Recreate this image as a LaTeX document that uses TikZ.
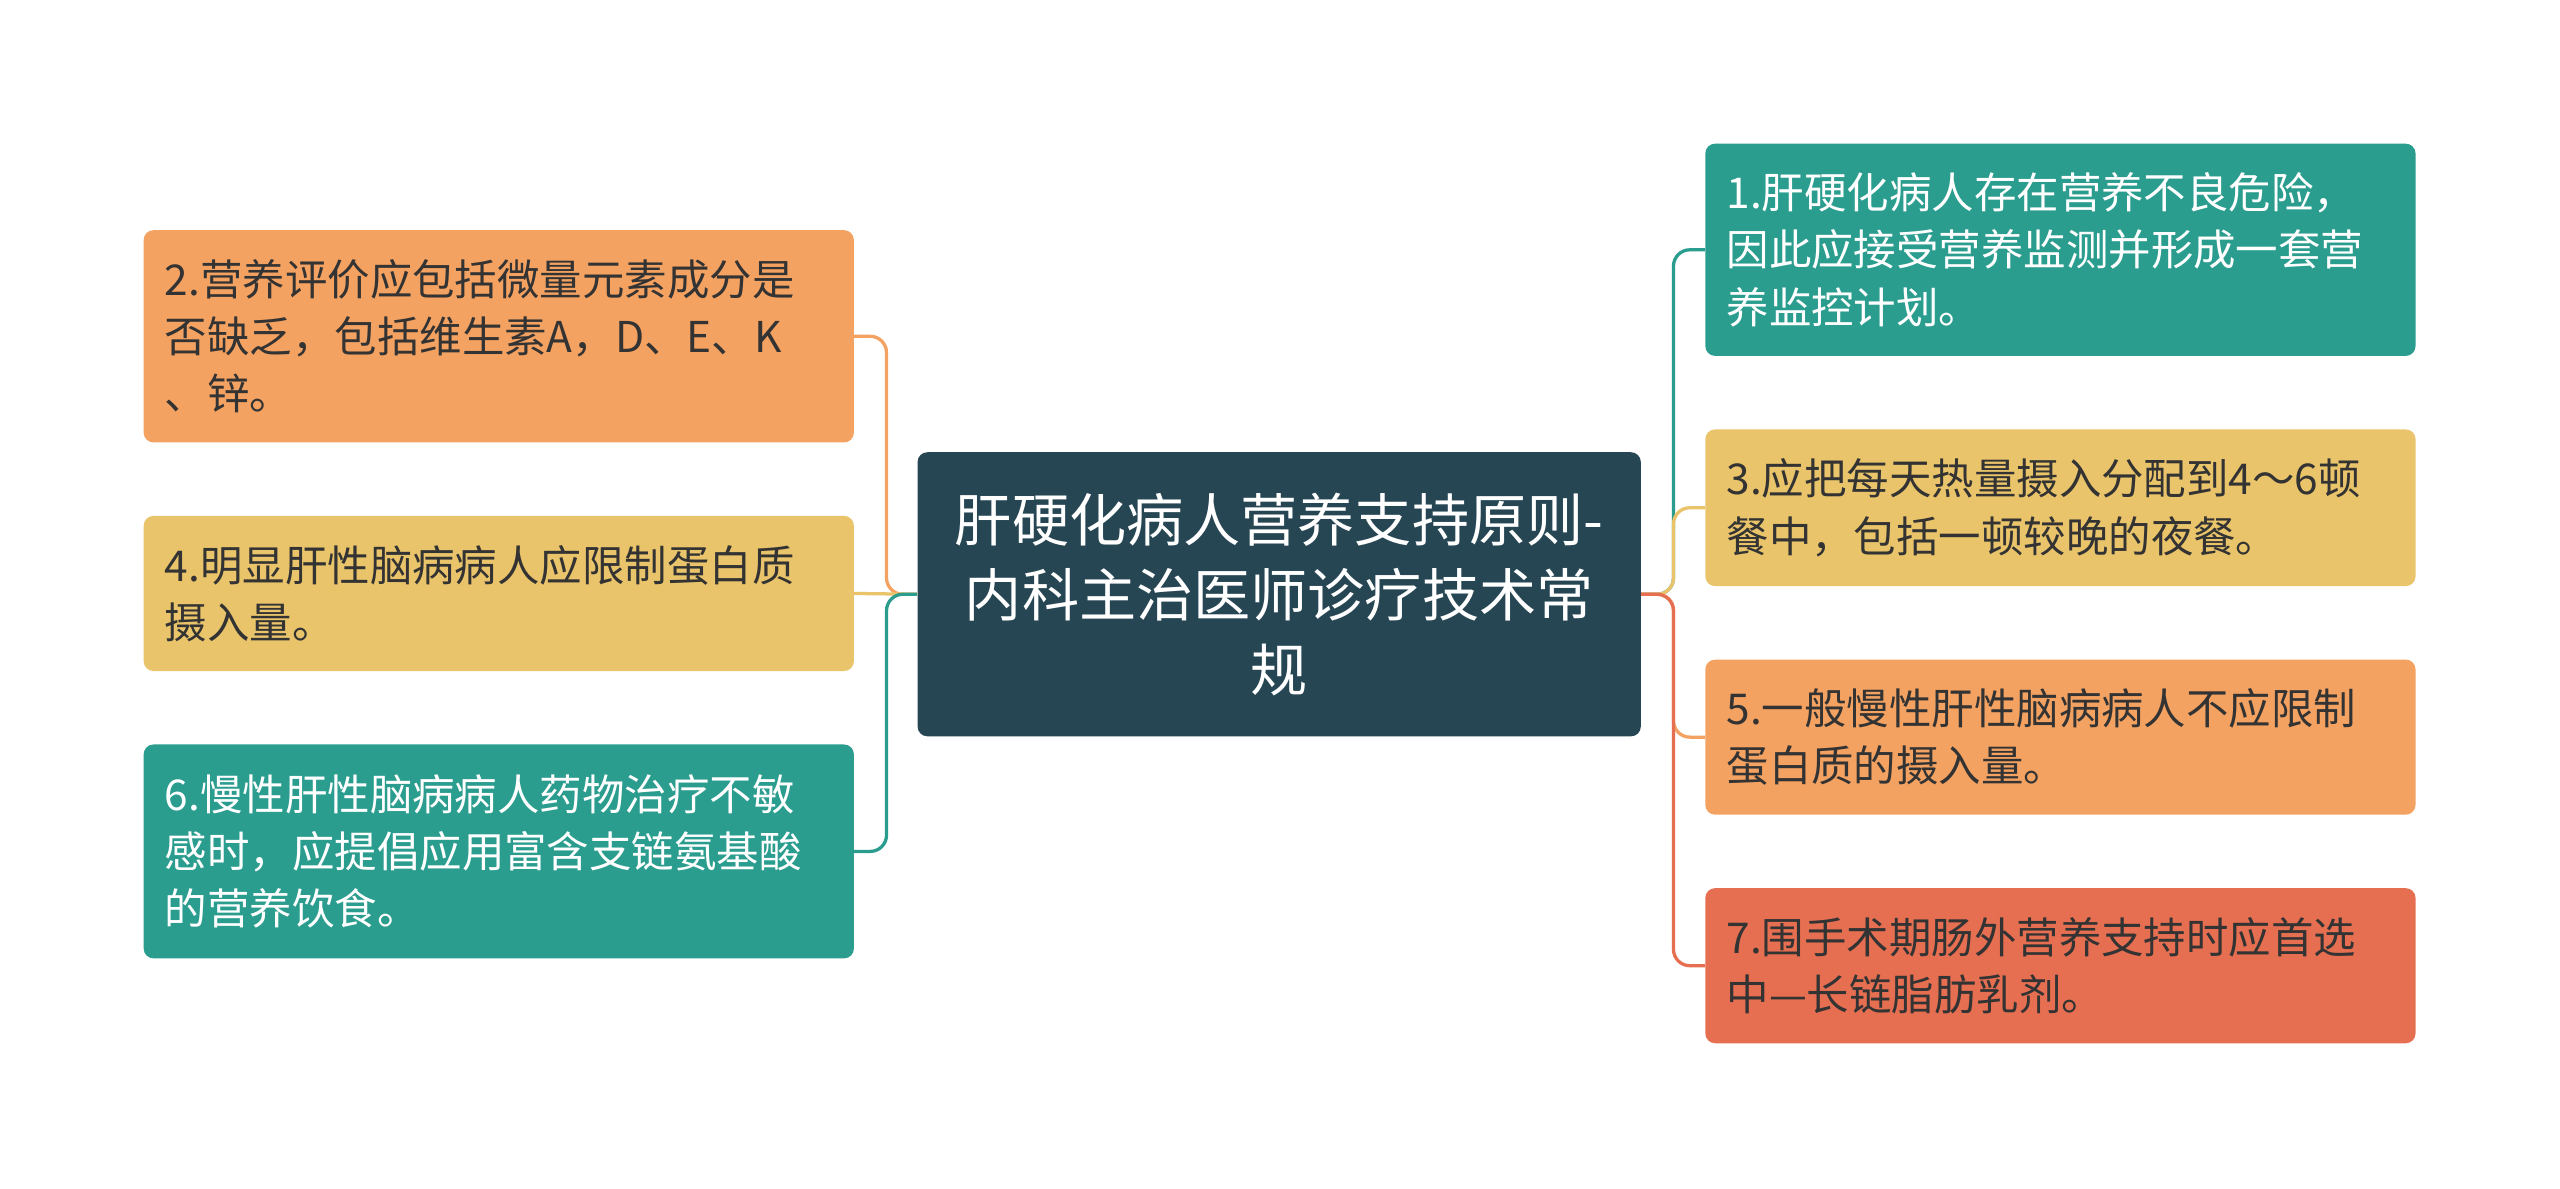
\documentclass[tikz,border=0pt]{standalone}
\usepackage{fontspec}
\newfontfamily\cjk{Noto Sans CJK SC}
\definecolor{cdark}{HTML}{264653}
\definecolor{cteal}{HTML}{2A9D8F}
\definecolor{cyel}{HTML}{E9C46A}
\definecolor{corg}{HTML}{F4A261}
\definecolor{cred}{HTML}{E76F51}
\definecolor{ctxt}{HTML}{333333}
\tikzset{
 leaf/.style={rounded corners=6pt,minimum width=435pt,text width=409pt,align=left,inner sep=0pt,font=\cjk\fontsize{26}{35}\selectfont,text=ctxt},
 conn/.style={line width=2pt,rounded corners=10pt}
}
\begin{document}
\begin{tikzpicture}[x=1pt,y=1pt]
\useasboundingbox[fill=white] (0,0) rectangle (1568,728);
\node[rounded corners=6pt,fill=cdark,minimum width=443pt,minimum height=174pt,text width=420pt,align=center,inner sep=0pt,text=white,font=\cjk\fontsize{35}{46}\selectfont] (c) at (783.5,364) {肝硬化病人营养支持原则-\\内科主治医师诊疗技术常\\规};
\node[leaf,fill=corg,minimum height=130pt] (n2) at (305.5,522) {2.营养评价应包括微量元素成分是\\否缺乏，包括维生素A，D、E、K\\、锌。};
\node[leaf,fill=cyel,minimum height=95pt] (n4) at (305.5,364.5) {4.明显肝性脑病病人应限制蛋白质\\摄入量。};
\node[leaf,fill=cteal,minimum height=131pt,text=white] (n6) at (305.5,206.5) {6.慢性肝性脑病病人药物治疗不敏\\感时，应提倡应用富含支链氨基酸\\的营养饮食。};
\node[leaf,fill=cteal,minimum height=130pt,text=white] (n1) at (1262,575) {1.肝硬化病人存在营养不良危险，\\因此应接受营养监测并形成一套营\\养监控计划。};
\node[leaf,fill=cyel,minimum height=96pt] (n3) at (1262,417) {3.应把每天热量摄入分配到4～6顿\\餐中，包括一顿较晚的夜餐。};
\node[leaf,fill=corg,minimum height=95pt] (n5) at (1262,276.5) {5.一般慢性肝性脑病病人不应限制\\蛋白质的摄入量。};
\node[leaf,fill=cred,minimum height=95pt] (n7) at (1262,136.5) {7.围手术期肠外营养支持时应首选\\中—长链脂肪乳剂。};
\coordinate (lt) at (543,364);
\coordinate (rt) at (1025,364);
\draw[conn,corg] (c.west) -- (lt) |- (n2.east);
\draw[conn,cyel] (c.west) -- (n4.east);
\draw[conn,cteal] (c.west) -- (lt) |- (n6.east);
\draw[conn,cteal] (c.east) -- (rt) |- (n1.west);
\draw[conn,cyel] (c.east) -- (rt) |- (n3.west);
\draw[conn,corg] (c.east) -- (rt) |- (n5.west);
\draw[conn,cred] (c.east) -- (rt) |- (n7.west);
\end{tikzpicture}
\end{document}
